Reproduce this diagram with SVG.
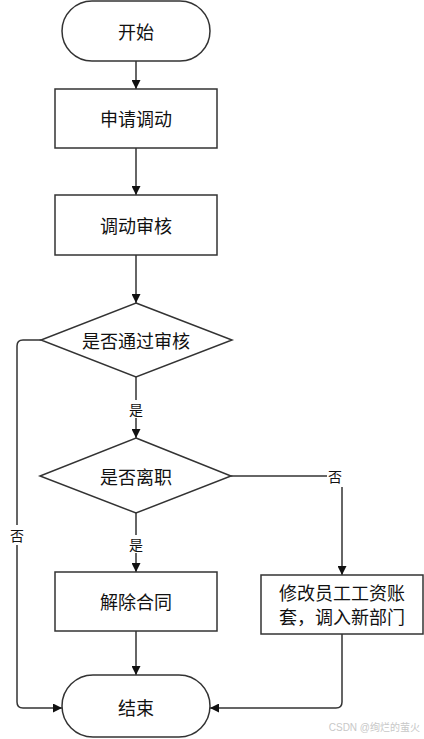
<svg xmlns="http://www.w3.org/2000/svg" width="424" height="739" viewBox="0 0 424 739">
<style>
.shape{fill:#fff;stroke:#333;stroke-width:1.5}
.line{fill:none;stroke:#333;stroke-width:1.5}
.t{font-family:"Noto Sans CJK SC","Liberation Sans",sans-serif;font-size:18px;fill:#111;text-anchor:middle;dominant-baseline:central}
.lbl{font-family:"Noto Sans CJK SC","Liberation Sans",sans-serif;font-size:14px;fill:#111;text-anchor:middle;dominant-baseline:central}
.wm{font-family:"Liberation Sans","Noto Sans CJK SC",sans-serif;font-size:10px;fill:#c8c8c8;text-anchor:end;dominant-baseline:central}
</style>
<defs>
<marker id="ah" viewBox="0 0 10 10" refX="10" refY="5" markerWidth="9" markerHeight="9" markerUnits="userSpaceOnUse" orient="auto">
<path d="M0,0 L10,5 L0,10 z" fill="#111"/>
</marker>
</defs>
<g id="connectors">
<line class="line" x1="136" y1="61" x2="136" y2="89" marker-end="url(#ah)"/>
<line class="line" x1="136" y1="148" x2="136" y2="195" marker-end="url(#ah)"/>
<line class="line" x1="136" y1="255" x2="136" y2="303" marker-end="url(#ah)"/>
<line class="line" x1="136" y1="377" x2="136" y2="400"/>
<line class="line" x1="136" y1="418" x2="136" y2="438" marker-end="url(#ah)"/>
<text class="lbl" x="136" y="409">是</text>
<line class="line" x1="136" y1="513" x2="136" y2="535"/>
<line class="line" x1="136" y1="553" x2="136" y2="572" marker-end="url(#ah)"/>
<text class="lbl" x="136" y="544">是</text>
<line class="line" x1="136" y1="631" x2="136" y2="675" marker-end="url(#ah)"/>
<path class="line" d="M231,476 H327"/>
<text class="lbl" x="335" y="476">否</text>
<path class="line" d="M342,487 V575" marker-end="url(#ah)"/>
<path class="line" d="M342,634 V702 Q342,708 336,708 H210" marker-end="url(#ah)"/>
<path class="line" d="M41,340 H23 Q17,340 17,346 V525"/>
<path class="line" d="M17,545 V702 Q17,708 23,708 H62" marker-end="url(#ah)"/>
<text class="lbl" x="17" y="535">否</text>
</g>
<g id="start">
<rect class="shape" x="62" y="1" width="148" height="60" rx="30" ry="30"/>
<text class="t" x="136" y="31">开始</text>
</g>
<g id="apply">
<rect class="shape" x="55" y="89" width="162" height="59"/>
<text class="t" x="136" y="118">申请调动</text>
</g>
<g id="review">
<rect class="shape" x="55" y="195" width="162" height="60"/>
<text class="t" x="136" y="225">调动审核</text>
</g>
<g id="passed">
<polygon class="shape" points="136,303 232,340 136,377 41,340"/>
<text class="t" x="136" y="340">是否通过审核</text>
</g>
<g id="resign">
<polygon class="shape" points="136,438 231,476 136,513 40,476"/>
<text class="t" x="136" y="476">是否离职</text>
</g>
<g id="terminate">
<rect class="shape" x="55" y="572" width="162" height="59"/>
<text class="t" x="136" y="601">解除合同</text>
</g>
<g id="modify">
<rect class="shape" x="261" y="575" width="162" height="59"/>
<text class="t" x="342" y="592">修改员工工资账</text>
<text class="t" x="342" y="616">套，调入新部门</text>
</g>
<g id="end">
<rect class="shape" x="62" y="675" width="148" height="62" rx="31" ry="31"/>
<text class="t" x="136" y="707">结束</text>
</g>
<text class="wm" x="420" y="727">CSDN @绚烂的萤火</text>
</svg>
